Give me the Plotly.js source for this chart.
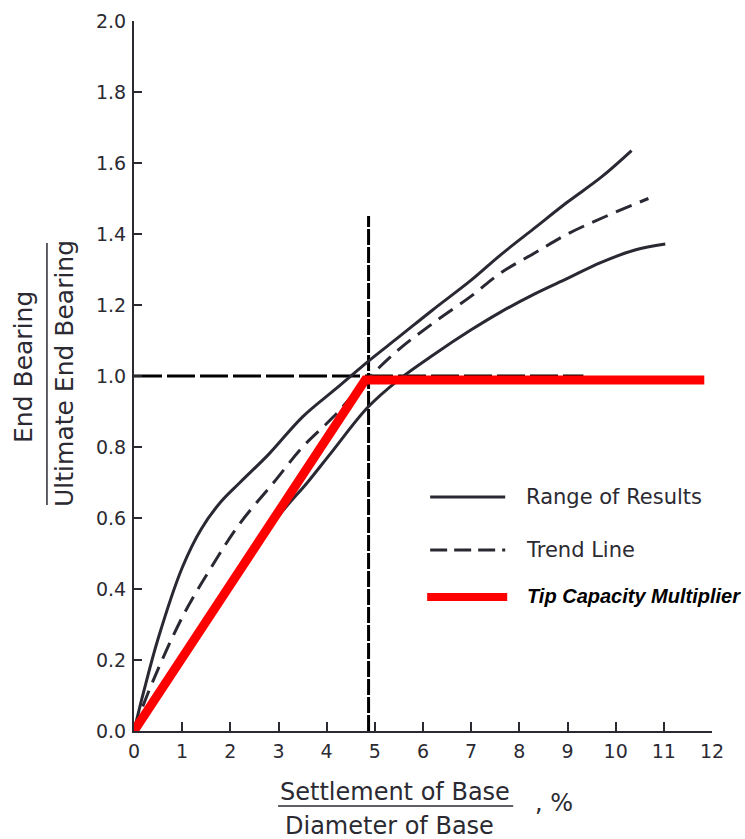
<!DOCTYPE html>
<html>
<head>
<meta charset="utf-8">
<script src="https://cdn.plot.ly/plotly-3.0.1.min.js"></script>
<style>html,body{margin:0;padding:0;background:#fff;}</style>
</head>
<body>
<div id="chart" style="width:745px;height:839px;"></div>
<script>
// Range of results - upper bound curve
const upperX = [0, 0.2, 0.5, 1.0, 1.4, 1.8, 2.2, 2.8, 3.5, 4.2, 4.85, 5.5, 6.2, 7.0, 7.6, 8.3, 9.0, 9.7, 10.33];
const upperY = [0, 0.11, 0.26, 0.46, 0.57, 0.645, 0.70, 0.78, 0.885, 0.965, 1.04, 1.11, 1.186, 1.27, 1.34, 1.415, 1.49, 1.56, 1.635];
// Range of results - lower bound curve
const lowerX = [0, 1.0, 2.0, 3.0, 3.6, 4.1, 4.84, 5.5, 6.22, 7.0, 7.61, 8.3, 9.0, 9.7, 10.4, 11.03];
const lowerY = [0, 0.2, 0.405, 0.605, 0.70, 0.785, 0.91, 0.99, 1.06, 1.13, 1.18, 1.23, 1.275, 1.32, 1.355, 1.372];
// Trend line
const trendX = [0, 0.3, 1.0, 1.6, 2.2, 2.9, 3.5, 4.14, 4.84, 5.5, 6.22, 7.0, 7.61, 8.3, 9.0, 9.8, 10.68];
const trendY = [0, 0.11, 0.32, 0.46, 0.585, 0.70, 0.80, 0.885, 0.99, 1.075, 1.15, 1.225, 1.29, 1.345, 1.40, 1.45, 1.50];
// Tip capacity multiplier
const tipX = [0, 4.8, 11.84];
const tipY = [0, 0.989, 0.989];
// Reference lines
const refH = {x: [0, 9.33], y: [1.0, 1.0]};
const refV = {x: [4.87, 4.87], y: [0, 1.451]};
// Ticks
const xTicks = [0,1,2,3,4,5,6,7,8,9,10,11,12];
const yTicks = [0,0.2,0.4,0.6,0.8,1.0,1.2,1.4,1.6,1.8,2.0];
const yTickText = ["0.0","0.2","0.4","0.6","0.8","1.0","1.2","1.4","1.6","1.8","2.0"];

const ink = "#2a2833";
const txt = "#2b2a32";
const font = "DejaVu Sans, Arial, sans-serif";

const traces = [
  {x: refH.x, y: refH.y, mode: "lines", line: {color: "#000", width: 3, dash: "28px,5px"}, hoverinfo: "skip"},
  {x: refV.x, y: refV.y, mode: "lines", line: {color: "#000", width: 3, dash: "16px,2px"}, hoverinfo: "skip"},
  {x: upperX, y: upperY, mode: "lines", line: {color: ink, width: 3, shape: "spline", smoothing: 1}, name: "Range of Results"},
  {x: lowerX, y: lowerY, mode: "lines", line: {color: ink, width: 3, shape: "spline", smoothing: 1}, name: "Range of Results"},
  {x: trendX, y: trendY, mode: "lines", line: {color: ink, width: 3, dash: "17px,9px", shape: "spline", smoothing: 1}, name: "Trend Line"},
  {x: tipX, y: tipY, mode: "lines", line: {color: "#ff0000", width: 9}, name: "Tip Capacity Multiplier"}
];

// plot area geometry helpers (pixel -> paper)
const L = 134, R = 711.7, T = 21, B = 731;
const px = v => (v - L) / (R - L);
const py = v => (B - v) / (B - T);

const layout = {
  width: 745, height: 839,
  margin: {l: L, r: 745 - R, t: T, b: 839 - B, pad: 0},
  paper_bgcolor: "#fff", plot_bgcolor: "#fff",
  showlegend: false,
  xaxis: {
    range: [0, 12], tickvals: xTicks, ticktext: xTicks.map(String),
    ticks: "inside", ticklen: 9, tickwidth: 2, tickcolor: txt,
    showline: true, linecolor: txt, linewidth: 2, showgrid: false, zeroline: false,
    tickfont: {family: font, size: 19, color: txt}, ticklabelstandoff: 2,
    fixedrange: true
  },
  yaxis: {
    range: [0, 2], tickvals: yTicks, ticktext: yTickText,
    ticks: "inside", ticklen: 8, tickwidth: 2, tickcolor: txt,
    showline: true, linecolor: txt, linewidth: 2, showgrid: false, zeroline: false,
    tickfont: {family: font, size: 19, color: txt}, ticklabelstandoff: 2,
    fixedrange: true
  },
  shapes: [
    // y-title fraction bar
    {type: "line", xref: "paper", yref: "paper", x0: px(47), x1: px(47), y0: py(243), y1: py(505), line: {color: txt, width: 1.5}},
    // x-title fraction bar
    {type: "line", xref: "paper", yref: "paper", x0: px(278), x1: px(513), y0: py(806), y1: py(806), line: {color: txt, width: 1.5}},
    // legend samples
    {type: "line", xref: "paper", yref: "paper", x0: px(430), x1: px(505), y0: py(497), y1: py(497), line: {color: ink, width: 3}},
    {type: "line", xref: "paper", yref: "paper", x0: px(430), x1: px(505), y0: py(550), y1: py(550), line: {color: ink, width: 3, dash: "17px,7px"}},
    {type: "line", xref: "paper", yref: "paper", x0: px(427), x1: px(507), y0: py(597), y1: py(597), line: {color: "#ff0000", width: 8}}
  ],
  annotations: [
    {text: "End Bearing", xref: "paper", yref: "paper", x: px(23), y: py(367), textangle: -90, showarrow: false, xanchor: "center", yanchor: "middle", font: {family: font, size: 25, color: txt}},
    {text: "Ultimate End Bearing", xref: "paper", yref: "paper", x: px(64), y: py(373), textangle: -90, showarrow: false, xanchor: "center", yanchor: "middle", font: {family: font, size: 25, color: txt}},
    {text: "Settlement of Base", xref: "paper", yref: "paper", x: px(395), y: py(792), showarrow: false, xanchor: "center", yanchor: "middle", font: {family: font, size: 24, color: txt}},
    {text: "Diameter of Base", xref: "paper", yref: "paper", x: px(389), y: py(826), showarrow: false, xanchor: "center", yanchor: "middle", font: {family: font, size: 24, color: txt}},
    {text: ", %", xref: "paper", yref: "paper", x: px(554), y: py(803), showarrow: false, xanchor: "center", yanchor: "middle", font: {family: font, size: 24, color: txt}},
    {text: "Range of Results", xref: "paper", yref: "paper", x: px(524), y: py(497), showarrow: false, xanchor: "left", yanchor: "middle", font: {family: font, size: 21, color: txt}},
    {text: "Trend Line", xref: "paper", yref: "paper", x: px(524), y: py(550), showarrow: false, xanchor: "left", yanchor: "middle", font: {family: font, size: 21, color: txt}},
    {text: "<b><i>Tip Capacity Multiplier</i></b>", xref: "paper", yref: "paper", x: px(525), y: py(596), showarrow: false, xanchor: "left", yanchor: "middle", font: {family: "Liberation Sans, Arial, sans-serif", size: 20, color: "#000"}}
  ]
};

Plotly.newPlot("chart", traces, layout, {displayModeBar: false, staticPlot: true});
</script>
</body>
</html>
